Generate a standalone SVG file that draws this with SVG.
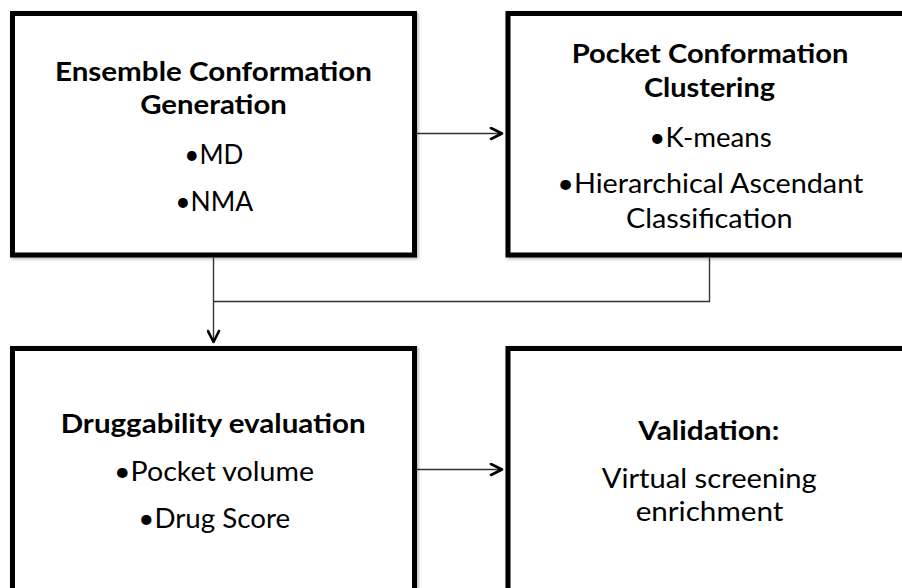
<svg xmlns="http://www.w3.org/2000/svg" width="902" height="588" viewBox="0 0 902 588">
<defs>
<style>
.box{fill:#ffffff;stroke:#000000;stroke-width:5;filter:url(#sh)}
.t{font-family:Lato,"Open Sans",sans-serif;font-size:26px;fill:#000000;text-anchor:middle}
.b{font-weight:bold}
.c{fill:none;stroke:#333333;stroke-width:1.4}
</style>
<filter id="sh" x="-5%" y="-5%" width="110%" height="110%">
<feDropShadow dx="1.5" dy="1.5" stdDeviation="1.5" flood-color="#000000" flood-opacity="0.3"/>
</filter>
<marker id="ar" viewBox="0 0 16 14" markerWidth="16" markerHeight="14" refX="14" refY="7" orient="auto" markerUnits="userSpaceOnUse">
<path d="M3,1.5 L14,7 L3,12.5" fill="none" stroke="#000000" stroke-width="2.6" stroke-linecap="round" stroke-linejoin="round"/>
</marker>
</defs>
<rect width="902" height="588" fill="#ffffff"/>
<g id="connectors">
<line class="c" x1="417" y1="133.5" x2="502" y2="133.5" marker-end="url(#ar)"/>
<line class="c" x1="417" y1="469.5" x2="502" y2="469.5" marker-end="url(#ar)"/>
<polyline class="c" points="709.5,258 709.5,301.5 213.5,301.5"/>
<polyline class="c" points="213.5,258 213.5,342" marker-end="url(#ar)"/>
</g>
<g id="node-ensemble">
<rect class="box" x="12.5" y="13.5" width="402" height="241.5"/>
<text class="t b" x="213.5" y="81" textLength="317" lengthAdjust="spacingAndGlyphs">Ensemble Conformation</text>
<text class="t b" x="213.5" y="114.3" textLength="146.7" lengthAdjust="spacingAndGlyphs">Generation</text>
<text class="t" x="213.8" y="164" textLength="59" lengthAdjust="spacingAndGlyphs">•MD</text>
<text class="t" x="214.2" y="210.7" textLength="78" lengthAdjust="spacingAndGlyphs">•NMA</text>
</g>
<g id="node-clustering">
<rect class="box" x="508" y="13.5" width="404" height="241.5"/>
<text class="t b" x="710" y="63.3" textLength="276.7" lengthAdjust="spacingAndGlyphs">Pocket Conformation</text>
<text class="t b" x="709.5" y="96.7" textLength="131" lengthAdjust="spacingAndGlyphs">Clustering</text>
<text class="t" x="710.5" y="146.7" textLength="122.3" lengthAdjust="spacingAndGlyphs">•K-means</text>
<text class="t" x="710.3" y="193.3" textLength="306" lengthAdjust="spacingAndGlyphs">•Hierarchical Ascendant</text>
<text class="t" x="709.3" y="228.3" textLength="166.7" lengthAdjust="spacingAndGlyphs">Classification</text>
</g>
<g id="node-druggability">
<rect class="box" x="12.5" y="348.5" width="402" height="250"/>
<text class="t b" x="213.2" y="432.7" textLength="305" lengthAdjust="spacingAndGlyphs">Druggability evaluation</text>
<text class="t" x="214" y="480.7" textLength="200" lengthAdjust="spacingAndGlyphs">•Pocket volume</text>
<text class="t" x="214.2" y="528.3" textLength="151.7" lengthAdjust="spacingAndGlyphs">•Drug Score</text>
</g>
<g id="node-validation">
<rect class="box" x="508" y="348.5" width="404" height="250"/>
<text class="t b" x="708.8" y="440" textLength="141" lengthAdjust="spacingAndGlyphs">Validation:</text>
<text class="t" x="709.2" y="488.3" textLength="215" lengthAdjust="spacingAndGlyphs">Virtual screening</text>
<text class="t" x="709.5" y="520.7" textLength="147.7" lengthAdjust="spacingAndGlyphs">enrichment</text>
</g>
</svg>
